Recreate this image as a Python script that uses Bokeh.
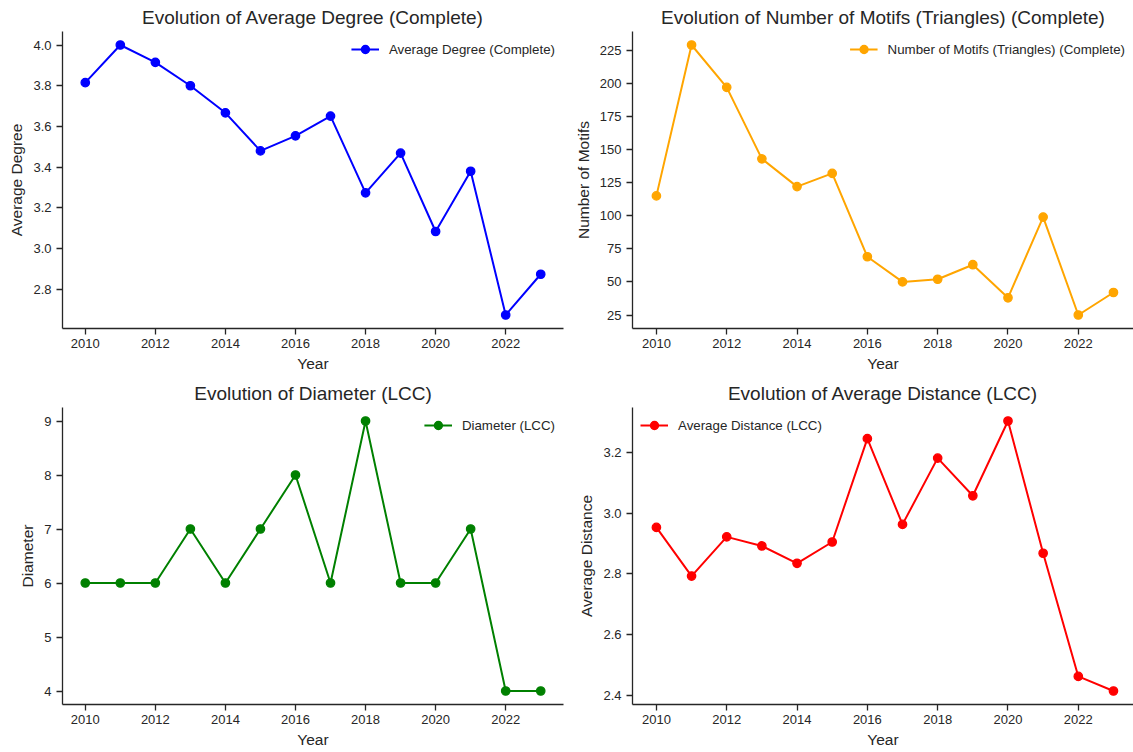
from bokeh.plotting import figure
from bokeh.layouts import gridplot
from bokeh.models import Range1d, FixedTicker, PrintfTickFormatter
from bokeh.embed import file_html
from bokeh.resources import INLINE

years = list(range(2010, 2024))
avg_degree = [3.815, 4.0, 3.915, 3.80, 3.667, 3.48, 3.554, 3.651, 3.274, 3.469, 3.084, 3.38, 2.674, 2.874]
motifs = [115, 229, 197, 143, 122, 132, 69, 50, 52, 63, 38, 99, 25, 42]
diameter = [6, 6, 6, 7, 6, 7, 8, 6, 9, 6, 6, 7, 4, 4]
avg_distance = [2.953, 2.793, 2.922, 2.892, 2.835, 2.905, 3.245, 2.963, 3.181, 3.057, 3.303, 2.868, 2.463, 2.415]

x_ticks = [2010, 2012, 2014, 2016, 2018, 2020, 2022]
deg_ticks = [2.8, 3.0, 3.2, 3.4, 3.6, 3.8, 4.0]
motif_ticks = [25, 50, 75, 100, 125, 150, 175, 200, 225]
diam_ticks = [4, 5, 6, 7, 8, 9]
dist_ticks = [2.4, 2.6, 2.8, 3.0, 3.2]

FONT = "Liberation Sans"
TXT = "#262626"


def panel(title, ys, color, label, ylabel, yticks, yfmt, loc, width, height,
          bl, br, bt, bb, xstart, xend):
    lo, hi = min(ys), max(ys)
    pad = 0.05 * (hi - lo)
    p = figure(width=width, height=height, output_backend="svg", toolbar_location=None,
               x_range=Range1d(xstart, xend), y_range=Range1d(lo - pad, hi + pad),
               min_border_left=bl, min_border_right=br, min_border_top=bt, min_border_bottom=bb,
               title=title)
    p.line(years, ys, line_color=color, line_width=2, legend_label=label)
    p.scatter(years, ys, size=8.4, line_width=1.3, fill_color=color, line_color=color,
              legend_label=label)

    p.title.text_font = FONT
    p.title.text_font_size = "19px"
    p.title.text_font_style = "normal"
    p.title.text_color = TXT
    p.title.align = "center"
    p.title.standoff = 7

    p.outline_line_color = None
    p.xgrid.visible = False
    p.ygrid.visible = False
    p.background_fill_color = "white"
    p.border_fill_color = "white"

    for ax in (p.xaxis[0], p.yaxis[0]):
        ax.axis_line_color = TXT
        ax.axis_line_width = 1.3
        ax.major_tick_line_color = TXT
        ax.major_tick_line_width = 1.3
        ax.major_tick_out = 6
        ax.major_tick_in = 0
        ax.minor_tick_line_color = None
        ax.major_label_text_font = FONT
        ax.major_label_text_font_size = "13px"
        ax.major_label_text_color = TXT
        ax.axis_label_text_font = FONT
        ax.axis_label_text_font_size = "15.5px"
        ax.axis_label_text_font_style = "normal"
        ax.axis_label_text_color = TXT

    p.xaxis.ticker = FixedTicker(ticks=x_ticks)
    p.xaxis.axis_label = "Year"
    p.xaxis.major_label_standoff = 4
    p.xaxis.axis_label_standoff = 4
    p.yaxis.ticker = FixedTicker(ticks=yticks)
    p.yaxis.formatter = PrintfTickFormatter(format=yfmt)
    p.yaxis.axis_label = ylabel
    p.yaxis.major_label_standoff = 5
    p.yaxis.axis_label_standoff = 5

    lg = p.legend[0]
    lg.location = loc
    lg.border_line_color = None
    lg.background_fill_alpha = 0
    lg.label_text_font = FONT
    lg.label_text_font_size = "13.3px"
    lg.label_text_color = TXT
    lg.glyph_width = 28
    lg.glyph_height = 20
    lg.label_height = 20
    lg.label_standoff = 10
    lg.margin = 8
    lg.padding = 0
    return p


p1 = panel("Evolution of Average Degree (Complete)", avg_degree, "blue",
           "Average Degree (Complete)", "Average Degree", deg_ticks, "%.1f", "top_right",
           566, 375, 62, 3, 31, 47, 2009.35, 2023.65)
p2 = panel("Evolution of Number of Motifs (Triangles) (Complete)", motifs, "orange",
           "Number of Motifs (Triangles) (Complete)", "Number of Motifs", motif_ticks, "%d",
           "top_right", 567, 375, 66, 0, 31, 47, 2009.32, 2023.57)
p3 = panel("Evolution of Diameter (LCC)", diameter, "green",
           "Diameter (LCC)", "Diameter", diam_ticks, "%d", "top_right",
           566, 377, 62, 3, 32, 48, 2009.35, 2023.65)
p4 = panel("Evolution of Average Distance (LCC)", avg_distance, "red",
           "Average Distance (LCC)", "Average Distance", dist_ticks, "%.1f", "top_left",
           567, 377, 66, 0, 32, 48, 2009.32, 2023.57)

grid = gridplot([[p1, p2], [p3, p4]], toolbar_location=None)
open("out.html", "w").write(file_html(grid, INLINE))
